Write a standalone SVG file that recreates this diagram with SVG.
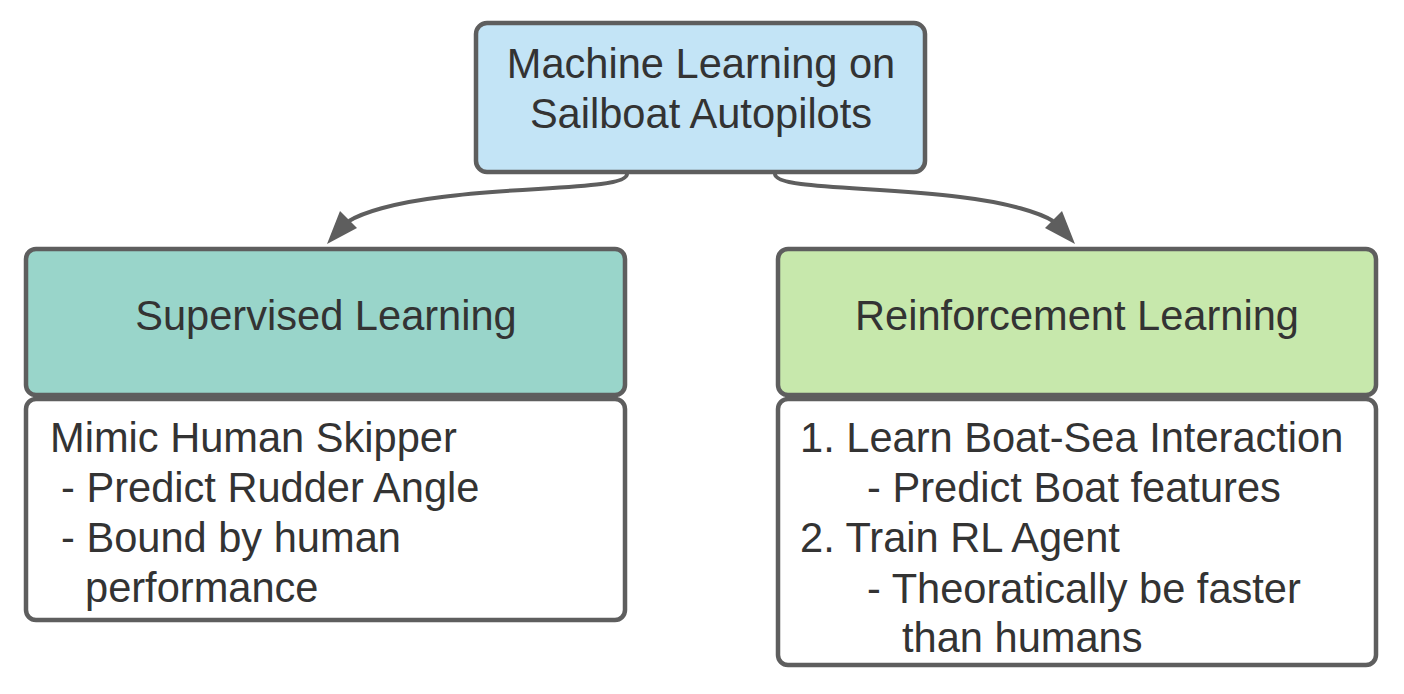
<svg xmlns="http://www.w3.org/2000/svg" width="1404" height="694" viewBox="0 0 1404 694">
<style>
.box{stroke:#5e5e5e;stroke-width:4.5}
.t{font-family:"Liberation Sans",Arial,sans-serif;font-size:41.6px;fill:#333333}
.c{text-anchor:middle}
.conn{fill:none;stroke:#5e5e5e;stroke-width:4}
.head{fill:#5e5e5e}
</style>
<rect width="1404" height="694" fill="#ffffff"/>
<g id="connectors">
<path class="conn" d="M627,174 C627,190 520,186 442,197 C392,203 362,213 349,221"/>
<polygon class="head" points="327,244 340,211 357,228"/>
<path class="conn" d="M775,174 C775,190 882,186 960,197 C1010,203 1040,213 1053,221"/>
<polygon class="head" points="1075,244 1062,211 1045,228"/>
</g>
<g id="root">
<rect class="box" x="476" y="23" width="449" height="149" rx="11" fill="#c3e4f6"/>
<text class="t c" x="701" y="78">Machine Learning on</text>
<text class="t c" x="701" y="128">Sailboat Autopilots</text>
</g>
<g id="supervised">
<rect class="box" x="26" y="249" width="599" height="146" rx="10" fill="#99d5ca"/>
<text class="t c" x="326" y="330">Supervised Learning</text>
</g>
<g id="supervised-details">
<rect class="box" x="26" y="399" width="599" height="221" rx="10" fill="#ffffff"/>
<text class="t" x="50" y="452">Mimic Human Skipper</text>
<text class="t" x="61" y="502">- Predict Rudder Angle</text>
<text class="t" x="61" y="552">- Bound by human</text>
<text class="t" x="85" y="602">performance</text>
</g>
<g id="reinforcement">
<rect class="box" x="778" y="249" width="598" height="146" rx="10" fill="#c7e8ac"/>
<text class="t c" x="1077" y="330">Reinforcement Learning</text>
</g>
<g id="reinforcement-details">
<rect class="box" x="778" y="399" width="598" height="266" rx="10" fill="#ffffff"/>
<text class="t" x="800" y="452">1. Learn Boat-Sea Interaction</text>
<text class="t" x="867" y="502">- Predict Boat features</text>
<text class="t" x="800" y="552">2. Train RL Agent</text>
<text class="t" x="867" y="603">- Theoratically be faster</text>
<text class="t" x="902" y="652">than humans</text>
</g>
</svg>
